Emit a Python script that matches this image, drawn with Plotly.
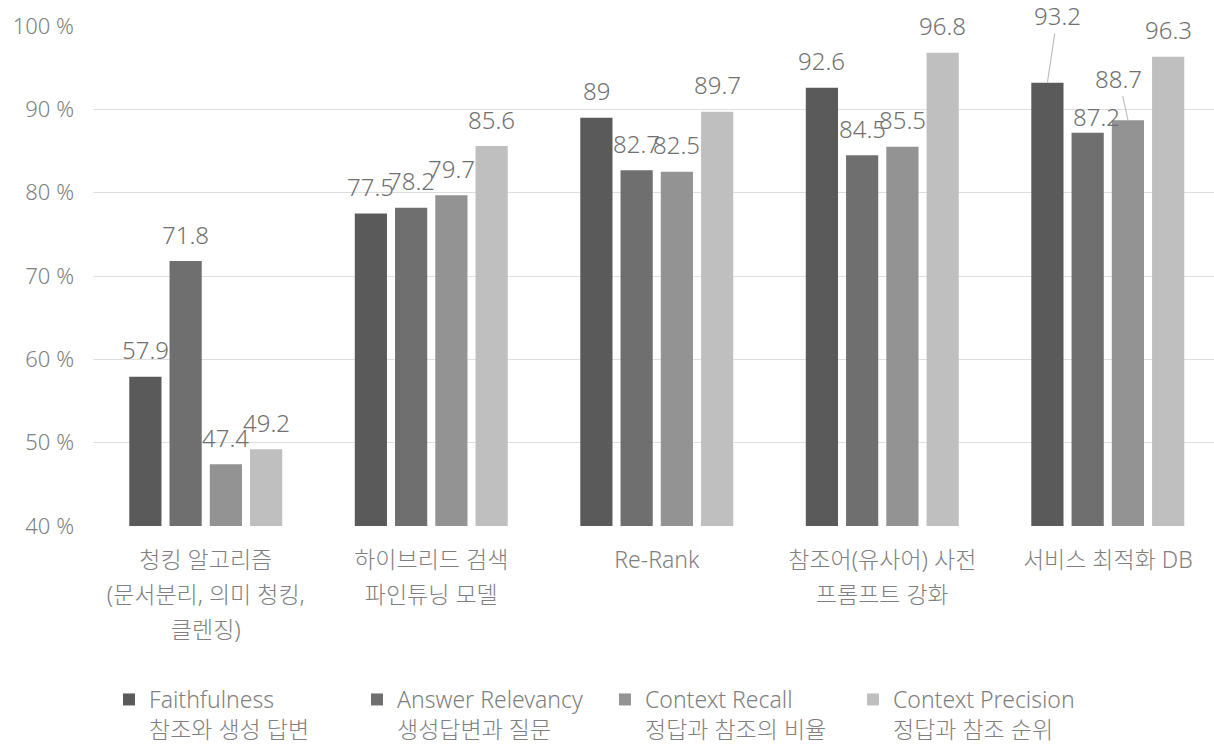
import plotly.graph_objects as go

# ---------------- data ----------------
categories = [
    "청킹 알고리즘\n(문서분리, 의미 청킹,\n클렌징)",
    "하이브리드 검색\n파인튜닝 모델",
    "Re-Rank",
    "참조어(유사어) 사전\n프롬프트 강화",
    "서비스 최적화 DB",
]
series_names = ["Faithfulness", "Answer Relevancy", "Context Recall", "Context Precision"]
series_subtitles = ["참조와 생성 답변", "생성답변과 질문", "정답과 참조의 비율", "정답과 참조 순위"]
faithfulness = [57.9, 77.5, 89, 92.6, 93.2]
answer_relevancy = [71.8, 78.2, 82.7, 84.5, 87.2]
context_recall = [47.4, 79.7, 82.5, 85.5, 88.7]
context_precision = [49.2, 85.6, 89.7, 96.8, 96.3]
y_ticks = [40, 50, 60, 70, 80, 90, 100]

series_values = [faithfulness, answer_relevancy, context_recall, context_precision]

# ---------------- style ----------------
colors = ["#5a5a5a", "#6f6f6f", "#939393", "#bfbfbf"]
FONT = "Noto Sans, Noto Sans CJK KR, sans-serif"
TXT = "#7f7f7f"
LBL = "#707070"
BARGAP = 0.286
GROUPGAP = 0.2
# special label placements (series index, category index) -> (dx px, dy px, leader line)
label_adjust = {
    (0, 4): (10, -67, True),
    (2, 4): (-9, -42, True),
    (1, 4): (9, -16, False),
}

x_idx = list(range(len(categories)))
fig = go.Figure()
for name, sub, vals, col in zip(series_names, series_subtitles, series_values, colors):
    fig.add_trace(go.Bar(
        x=x_idx, y=vals, name=f"{name}<br>{sub}",
        marker=dict(color=col, line=dict(width=0)),
        hoverinfo="y",
    ))

slot = (1 - BARGAP) / len(series_values)
annotations = []
for si, vals in enumerate(series_values):
    off = (si - (len(series_values) - 1) / 2) * slot
    for ci, v in enumerate(vals):
        adj = label_adjust.get((si, ci))
        base = dict(x=ci + off, y=v, xref="x", yref="y", text=f"{v:g}",
                    font=dict(family=FONT, size=24, color=LBL, weight=300))
        if adj and adj[2]:
            annotations.append(dict(base, showarrow=True, arrowhead=0, arrowwidth=1.2,
                                    arrowcolor="#bfbfbf", ax=adj[0], ay=adj[1], standoff=0))
        elif adj:
            annotations.append(dict(base, showarrow=False, xanchor="center", yanchor="middle",
                                    xshift=adj[0], yshift=-adj[1]))
        else:
            annotations.append(dict(base, showarrow=False, xanchor="center", yanchor="middle",
                                    yshift=27))

def tick_text(label):
    return "<br>".join(f"<span style='font-size:23px'>{ln}</span>" for ln in label.split("\n"))

fig.update_layout(
    width=1214, height=748,
    margin=dict(l=93, r=0, t=26, b=222),
    paper_bgcolor="white", plot_bgcolor="white",
    barmode="group", bargap=BARGAP, bargroupgap=GROUPGAP,
    font=dict(family=FONT, color=TXT, size=23, weight=300),
    showlegend=True,
    legend=dict(
        orientation="h", xref="container", yref="container",
        x=109 / 1214, xanchor="left", y=1 - 678 / 748, yanchor="top",
        font=dict(family=FONT, size=23, color=TXT, weight=300),
        entrywidth=203, entrywidthmode="pixels",
        valign="top", traceorder="normal",
        bgcolor="rgba(0,0,0,0)",
    ),
    annotations=annotations,
    xaxis=dict(
        range=[-0.5, 4.471],
        tickvals=x_idx, ticktext=[tick_text(c) for c in categories],
        tickfont=dict(family=FONT, size=27, color=TXT, weight=300),
        showgrid=False, zeroline=False, showline=False, ticks="",
        ticklabelstandoff=14,
    ),
    yaxis=dict(
        range=[40, 100], tickvals=y_ticks, ticktext=[f"{v} %" for v in y_ticks],
        tickfont=dict(family=FONT, size=22, color=TXT, weight=300),
        showgrid=True, gridcolor="#dedede", gridwidth=1.3,
        zeroline=False, showline=False, ticks="",
        ticklabelstandoff=18,
    ),
)

fig.write_html("out.html", config={"displayModeBar": False},
               post_script="document.body.style.margin='0';")
